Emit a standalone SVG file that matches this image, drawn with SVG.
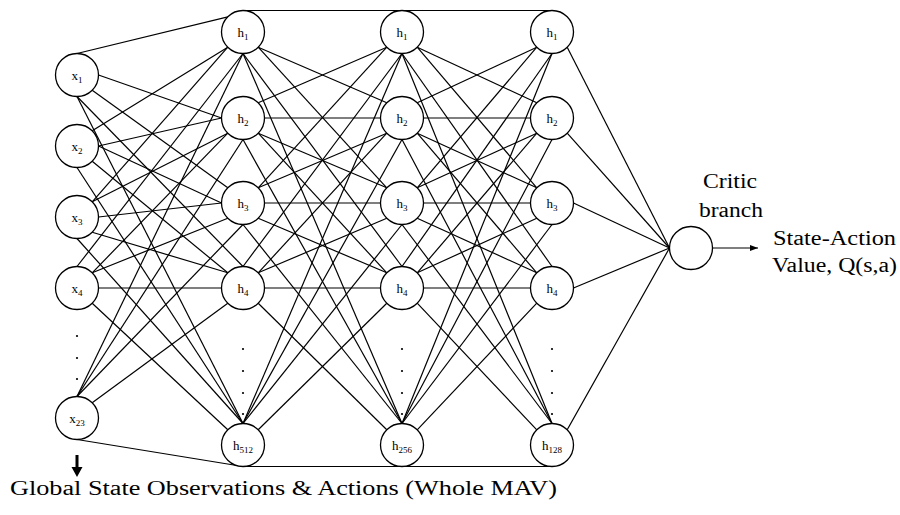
<svg xmlns="http://www.w3.org/2000/svg" width="900" height="515" viewBox="0 0 900 515">
  <style>
    .c line { stroke: #000; stroke-width: 1.2; fill: none; }
    .n circle { fill: #fff; stroke: #000; stroke-width: 1.3; }
    .lbl { font-family: "Liberation Serif", "Times New Roman", serif; font-size: 13px; fill: #000; text-anchor: middle; }
    .sub { font-size: 9px; }
    .big { font-family: "Liberation Serif", "Times New Roman", serif; font-size: 20px; fill: #000; }
    .dot { fill: #000; }
  </style>
  <defs>
    <marker id="arrow" viewBox="0 0 8 6" refX="8" refY="3" markerWidth="8" markerHeight="6" markerUnits="userSpaceOnUse" orient="auto">
      <path d="M0,0 L8,3 L0,6 Z" fill="#000"/>
    </marker>
  </defs>
  <rect width="900" height="515" fill="#fff"/>

  <!-- connections: input layer to hidden layer 1 -->
  <g id="connectors" class="c">
    <line x1="77" y1="53.5" x2="227.8" y2="16.8"/>
    <line x1="98.5" y1="75" x2="221.5" y2="118"/>
    <line x1="92.2" y1="90.2" x2="227.8" y2="187.8"/>
    <line x1="77" y1="96.5" x2="243" y2="266.5"/>
    <line x1="77" y1="96.5" x2="243" y2="423.5"/>
    <line x1="92.2" y1="130.8" x2="227.8" y2="47.2"/>
    <line x1="98.5" y1="146" x2="221.5" y2="118"/>
    <line x1="98.5" y1="146" x2="221.5" y2="203"/>
    <line x1="92.2" y1="161.2" x2="227.8" y2="272.8"/>
    <line x1="77" y1="167.5" x2="243" y2="423.5"/>
    <line x1="92.2" y1="201.8" x2="227.8" y2="47.2"/>
    <line x1="92.2" y1="201.8" x2="227.8" y2="133.2"/>
    <line x1="98.5" y1="217" x2="221.5" y2="203"/>
    <line x1="92.2" y1="232.2" x2="227.8" y2="272.8"/>
    <line x1="77" y1="238.5" x2="243" y2="423.5"/>
    <line x1="77" y1="266.5" x2="243" y2="53.5"/>
    <line x1="92.2" y1="272.8" x2="227.8" y2="133.2"/>
    <line x1="92.2" y1="272.8" x2="227.8" y2="218.2"/>
    <line x1="98.5" y1="288" x2="221.5" y2="288"/>
    <line x1="92.2" y1="303.2" x2="227.8" y2="429.8"/>
    <line x1="77" y1="396.5" x2="243" y2="53.5"/>
    <line x1="77" y1="396.5" x2="243" y2="139.5"/>
    <line x1="77" y1="396.5" x2="243" y2="224.5"/>
    <line x1="92.2" y1="402.8" x2="227.8" y2="303.2"/>
    <line x1="77" y1="439.5" x2="243" y2="466.5"/>

    <!-- hidden layer 1 to hidden layer 2 -->
    <line x1="243" y1="10.5" x2="402" y2="10.5"/>
    <line x1="258.2" y1="47.2" x2="386.8" y2="102.8"/>
    <line x1="258.2" y1="47.2" x2="386.8" y2="187.8"/>
    <line x1="243" y1="53.5" x2="402" y2="266.5"/>
    <line x1="243" y1="53.5" x2="402" y2="423.5"/>
    <line x1="258.2" y1="102.8" x2="386.8" y2="47.2"/>
    <line x1="264.5" y1="118" x2="380.5" y2="118"/>
    <line x1="258.2" y1="133.2" x2="386.8" y2="187.8"/>
    <line x1="258.2" y1="133.2" x2="386.8" y2="272.8"/>
    <line x1="243" y1="139.5" x2="402" y2="423.5"/>
    <line x1="258.2" y1="187.8" x2="386.8" y2="47.2"/>
    <line x1="258.2" y1="187.8" x2="386.8" y2="133.2"/>
    <line x1="264.5" y1="203" x2="380.5" y2="203"/>
    <line x1="258.2" y1="218.2" x2="386.8" y2="272.8"/>
    <line x1="243" y1="224.5" x2="402" y2="423.5"/>
    <line x1="243" y1="266.5" x2="402" y2="53.5"/>
    <line x1="258.2" y1="272.8" x2="386.8" y2="133.2"/>
    <line x1="258.2" y1="272.8" x2="386.8" y2="218.2"/>
    <line x1="264.5" y1="288" x2="380.5" y2="288"/>
    <line x1="258.2" y1="303.2" x2="386.8" y2="429.8"/>
    <line x1="243" y1="423.5" x2="402" y2="53.5"/>
    <line x1="243" y1="423.5" x2="402" y2="139.5"/>
    <line x1="243" y1="423.5" x2="402" y2="224.5"/>
    <line x1="258.2" y1="429.8" x2="386.8" y2="303.2"/>
    <line x1="243" y1="466.5" x2="402" y2="466.5"/>

    <!-- hidden layer 2 to hidden layer 3 -->
    <line x1="402" y1="10.5" x2="552" y2="10.5"/>
    <line x1="417.2" y1="47.2" x2="536.8" y2="102.8"/>
    <line x1="417.2" y1="47.2" x2="536.8" y2="187.8"/>
    <line x1="402" y1="53.5" x2="552" y2="266.5"/>
    <line x1="402" y1="53.5" x2="552" y2="423.5"/>
    <line x1="417.2" y1="102.8" x2="536.8" y2="47.2"/>
    <line x1="423.5" y1="118" x2="530.5" y2="118"/>
    <line x1="417.2" y1="133.2" x2="536.8" y2="187.8"/>
    <line x1="417.2" y1="133.2" x2="536.8" y2="272.8"/>
    <line x1="402" y1="139.5" x2="552" y2="423.5"/>
    <line x1="417.2" y1="187.8" x2="536.8" y2="47.2"/>
    <line x1="417.2" y1="187.8" x2="536.8" y2="133.2"/>
    <line x1="423.5" y1="203" x2="530.5" y2="203"/>
    <line x1="417.2" y1="218.2" x2="536.8" y2="272.8"/>
    <line x1="402" y1="224.5" x2="552" y2="423.5"/>
    <line x1="402" y1="266.5" x2="552" y2="53.5"/>
    <line x1="417.2" y1="272.8" x2="536.8" y2="133.2"/>
    <line x1="417.2" y1="272.8" x2="536.8" y2="218.2"/>
    <line x1="423.5" y1="288" x2="530.5" y2="288"/>
    <line x1="417.2" y1="303.2" x2="536.8" y2="429.8"/>
    <line x1="402" y1="423.5" x2="552" y2="53.5"/>
    <line x1="402" y1="423.5" x2="552" y2="139.5"/>
    <line x1="402" y1="423.5" x2="552" y2="224.5"/>
    <line x1="417.2" y1="429.8" x2="536.8" y2="303.2"/>
    <line x1="402" y1="466.5" x2="552" y2="466.5"/>

    <!-- hidden layer 3 to critic output -->
    <line x1="567.2" y1="47.2" x2="669.5" y2="248"/>
    <line x1="567.2" y1="133.2" x2="669.5" y2="248"/>
    <line x1="573.5" y1="203" x2="669.5" y2="248"/>
    <line x1="573.5" y1="288" x2="669.5" y2="248"/>
    <line x1="567.2" y1="429.8" x2="669.5" y2="248"/>

    <!-- output value arrow -->
    <line x1="712.5" y1="248" x2="758" y2="248" stroke-width="1" marker-end="url(#arrow)"/>
  </g>

  <!-- input layer -->
  <g id="x1" class="n"><circle cx="77" cy="75" r="21.5"/><text class="lbl" x="77" y="80">x<tspan class="sub" dy="3">1</tspan></text></g>
  <g id="x2" class="n"><circle cx="77" cy="146" r="21.5"/><text class="lbl" x="77" y="151">x<tspan class="sub" dy="3">2</tspan></text></g>
  <g id="x3" class="n"><circle cx="77" cy="217" r="21.5"/><text class="lbl" x="77" y="222">x<tspan class="sub" dy="3">3</tspan></text></g>
  <g id="x4" class="n"><circle cx="77" cy="288" r="21.5"/><text class="lbl" x="77" y="293">x<tspan class="sub" dy="3">4</tspan></text></g>
  <g id="x23" class="n"><circle cx="77" cy="418" r="21.5"/><text class="lbl" x="77" y="423">x<tspan class="sub" dy="3">23</tspan></text></g>
  <g id="input-dots">
    <circle class="dot" cx="77" cy="336" r="1.1"/>
    <circle class="dot" cx="77" cy="358" r="1.1"/>
    <circle class="dot" cx="77" cy="379" r="1.1"/>
  </g>

  <!-- hidden layer 1 -->
  <g id="l1-h1" class="n"><circle cx="243" cy="32" r="21.5"/><text class="lbl" x="243" y="37">h<tspan class="sub" dy="3">1</tspan></text></g>
  <g id="l1-h2" class="n"><circle cx="243" cy="118" r="21.5"/><text class="lbl" x="243" y="123">h<tspan class="sub" dy="3">2</tspan></text></g>
  <g id="l1-h3" class="n"><circle cx="243" cy="203" r="21.5"/><text class="lbl" x="243" y="208">h<tspan class="sub" dy="3">3</tspan></text></g>
  <g id="l1-h4" class="n"><circle cx="243" cy="288" r="21.5"/><text class="lbl" x="243" y="293">h<tspan class="sub" dy="3">4</tspan></text></g>
  <g id="l1-h512" class="n"><circle cx="243" cy="445" r="21.5"/><text class="lbl" x="243" y="450">h<tspan class="sub" dy="3">512</tspan></text></g>
  <g id="l1-dots">
    <circle class="dot" cx="243" cy="349" r="1.1"/>
    <circle class="dot" cx="243" cy="371" r="1.1"/>
    <circle class="dot" cx="243" cy="393" r="1.1"/>
    <circle class="dot" cx="243" cy="414" r="1.1"/>
  </g>

  <!-- hidden layer 2 -->
  <g id="l2-h1" class="n"><circle cx="402" cy="32" r="21.5"/><text class="lbl" x="402" y="37">h<tspan class="sub" dy="3">1</tspan></text></g>
  <g id="l2-h2" class="n"><circle cx="402" cy="118" r="21.5"/><text class="lbl" x="402" y="123">h<tspan class="sub" dy="3">2</tspan></text></g>
  <g id="l2-h3" class="n"><circle cx="402" cy="203" r="21.5"/><text class="lbl" x="402" y="208">h<tspan class="sub" dy="3">3</tspan></text></g>
  <g id="l2-h4" class="n"><circle cx="402" cy="288" r="21.5"/><text class="lbl" x="402" y="293">h<tspan class="sub" dy="3">4</tspan></text></g>
  <g id="l2-h256" class="n"><circle cx="402" cy="445" r="21.5"/><text class="lbl" x="402" y="450">h<tspan class="sub" dy="3">256</tspan></text></g>
  <g id="l2-dots">
    <circle class="dot" cx="402" cy="349" r="1.1"/>
    <circle class="dot" cx="402" cy="371" r="1.1"/>
    <circle class="dot" cx="402" cy="393" r="1.1"/>
    <circle class="dot" cx="402" cy="414" r="1.1"/>
  </g>

  <!-- hidden layer 3 -->
  <g id="l3-h1" class="n"><circle cx="552" cy="32" r="21.5"/><text class="lbl" x="552" y="37">h<tspan class="sub" dy="3">1</tspan></text></g>
  <g id="l3-h2" class="n"><circle cx="552" cy="118" r="21.5"/><text class="lbl" x="552" y="123">h<tspan class="sub" dy="3">2</tspan></text></g>
  <g id="l3-h3" class="n"><circle cx="552" cy="203" r="21.5"/><text class="lbl" x="552" y="208">h<tspan class="sub" dy="3">3</tspan></text></g>
  <g id="l3-h4" class="n"><circle cx="552" cy="288" r="21.5"/><text class="lbl" x="552" y="293">h<tspan class="sub" dy="3">4</tspan></text></g>
  <g id="l3-h128" class="n"><circle cx="552" cy="445" r="21.5"/><text class="lbl" x="552" y="450">h<tspan class="sub" dy="3">128</tspan></text></g>
  <g id="l3-dots">
    <circle class="dot" cx="552" cy="349" r="1.1"/>
    <circle class="dot" cx="552" cy="371" r="1.1"/>
    <circle class="dot" cx="552" cy="393" r="1.1"/>
    <circle class="dot" cx="552" cy="414" r="1.1"/>
  </g>

  <!-- critic output node -->
  <g id="critic" class="n">
    <circle cx="691" cy="248" r="21.5"/>
    <text class="big" x="730" y="188" text-anchor="middle" textLength="54" lengthAdjust="spacingAndGlyphs">Critic</text>
    <text class="big" x="731" y="217" text-anchor="middle" textLength="64" lengthAdjust="spacingAndGlyphs">branch</text>
  </g>
  <g id="output-label">
    <text class="big" x="773" y="245" textLength="123" lengthAdjust="spacingAndGlyphs">State-Action</text>
    <text class="big" x="772" y="272" textLength="125" lengthAdjust="spacingAndGlyphs">Value, Q(s,a)</text>
  </g>

  <!-- input caption -->
  <g id="input-caption">
    <path d="M75.5,455 H78.5 V467 H82.5 L77,477 L71.5,467 H75.5 Z" fill="#000"/>
    <text class="big" x="10" y="495" textLength="547" lengthAdjust="spacingAndGlyphs">Global State Observations &amp; Actions (Whole MAV)</text>
  </g>
</svg>
